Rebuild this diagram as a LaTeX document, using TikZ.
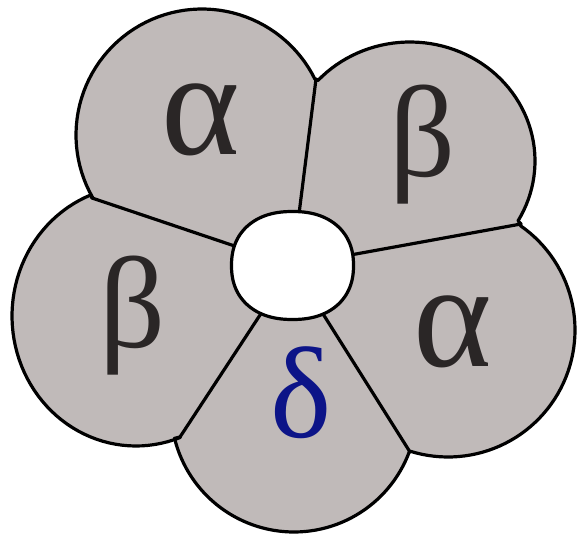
\documentclass[tikz,border=0pt]{standalone}
\usepackage{fontspec}
\setmainfont{Liberation Serif}
\definecolor{subunit}{HTML}{C0BAB9}
\definecolor{deltablue}{HTML}{0C1488}
\definecolor{labelgray}{HTML}{2A2626}
\begin{document}
\begin{tikzpicture}[x=1pt,y=-1pt,
  edge/.style={line width=3.2pt, line join=round, line cap=round, black},
  lbl/.style={inner sep=0pt, font=\fontsize{130}{130}\selectfont, text=labelgray},
  biglbl/.style={inner sep=0pt, font=\fontsize{150}{150}\selectfont, text=labelgray}]
\useasboundingbox (0,0) rectangle (577,534);
\coordinate (C) at (292.5,265.5);
% outer junctions
\coordinate (J1) at (316,79);
\coordinate (J2) at (521,224);
\coordinate (J3) at (410,452);
\coordinate (J4) at (180,437);
\coordinate (J5) at (92,198);
% fills
\fill[subunit] (J5) -- plot[domain=150.2:333.8, samples=60] ({202+126*cos(\x)},{135+126*sin(\x)}) -- (J1) -- (C) -- cycle;
\fill[subunit] (J1) -- plot[domain=222.5:390.2, samples=60] ({410+125*cos(\x)},{161+119*sin(\x)}) -- (J2) -- (C) -- cycle;
\fill[subunit] (J2) -- plot[domain=-55.3:107.3, samples=60] ({448+127*cos(\x)},{330+127*sin(\x)}) -- (J3) -- (C) -- cycle;
\fill[subunit] (J3) -- plot[domain=20.3:166.2, samples=60] ({294+123*cos(\x)},{409+123*sin(\x)}) -- (J4) -- (C) -- cycle;
\fill[subunit] (J4) -- plot[domain=69.1:248.6, samples=60] ({136+124*cos(\x)},{316+130*sin(\x)}) -- (J5) -- (C) -- cycle;
% outer edges
\draw[edge] (J5) -- plot[domain=150.2:333.8, samples=60] ({202+126*cos(\x)},{135+126*sin(\x)}) -- (J1);
\draw[edge] (J1) -- plot[domain=222.5:390.2, samples=60] ({410+125*cos(\x)},{161+119*sin(\x)}) -- (J2);
\draw[edge] (J2) -- plot[domain=-55.3:107.3, samples=60] ({448+127*cos(\x)},{330+127*sin(\x)}) -- (J3);
\draw[edge] (J3) -- plot[domain=20.3:166.2, samples=60] ({294+123*cos(\x)},{409+123*sin(\x)}) -- (J4);
\draw[edge] (J4) -- plot[domain=69.1:248.6, samples=60] ({136+124*cos(\x)},{316+130*sin(\x)}) -- (J5);
% boundaries between subunits (cut by the pore drawn on top)
\draw[edge] (J1) -- (C);
\draw[edge] (J2) -- (C);
\draw[edge] (J3) -- (C);
\draw[edge] (J4) -- (C);
\draw[edge] (J5) -- (C);
% central pore
\draw[edge, fill=white] plot[domain=0:357, samples=120, smooth cycle]
  ({292.5+61*cos(\x)*(abs(cos(\x))+0.001)^(-0.11)},{265.5+54*sin(\x)*(abs(sin(\x))+0.001)^(-0.11)});
% labels
\node[biglbl] (a1) at (201,120) {α};
\node[lbl] (b1) at (423,145) {β};
\node[lbl] (b2) at (133,316) {β};
\node[biglbl] (a2) at (453,332) {α};
\node[lbl, text=deltablue] (d) at (301,393) {δ};
\end{tikzpicture}
\end{document}
